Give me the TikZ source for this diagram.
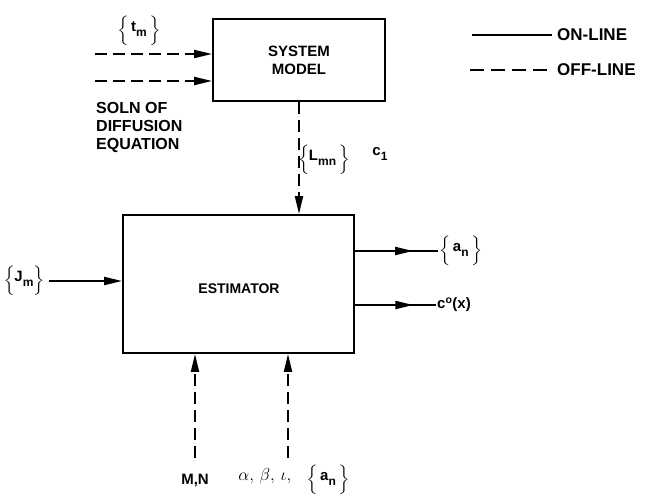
\documentclass[tikz,border=0pt]{standalone}
\usepackage{amsmath,amssymb}
\usepackage{graphicx}
\usepackage{fontspec}
\setmainfont{Liberation Sans}
\usetikzlibrary{arrows.meta,calc,positioning}
\newcommand{\lowsub}[1]{\raisebox{-0.3em}{\fontsize{12}{12}\selectfont #1}}
\newcommand{\tallbrace}[1]{\raisebox{-2pt}{\scalebox{1}[0.82]{$\bigg#1$}}}
\newcommand{\setof}[1]{\tallbrace\{\,#1\,\tallbrace\}}

\begin{document}
\begin{tikzpicture}[x=1pt, y=-1pt, >={Triangle[length=18pt,width=8pt]},
  block/.style={draw, line width=1.8pt, align=center, font=\fontsize{15}{18}\selectfont\bfseries},
  lbl/.style={inner sep=1pt, font=\fontsize{15}{18}\selectfont\bfseries, align=left},
  online/.style={line width=2pt},
  offline/.style={line width=2pt, dash pattern=on 12pt off 6pt}]
  \useasboundingbox (0,0) rectangle (647,496);
  % blocks
  \node[block, minimum width=172pt, minimum height=82pt] (sys) at (299,60) {SYSTEM\\MODEL};
  \node[block, minimum width=231pt, minimum height=138pt] (est) at (238.5,284) {};
  \node[lbl, font=\fontsize{14}{17}\selectfont\bfseries] (esttxt) at (239,289) {ESTIMATOR};
  % inputs of the system model
  \coordinate (tin) at (95,54);
  \coordinate (sin) at (95,81);
  \node[lbl] (tm) at (139,31) {\setof{t\lowsub{m}}};
  \node[lbl, anchor=north west, font=\fontsize{16}{18}\selectfont\bfseries] (soln) at (95,101) {SOLN OF\\DIFFUSION\\EQUATION};
  \draw[offline, ->] (tin) -- (tin -| sys.west);
  \draw[offline, ->] (sin) -- (sin -| sys.west);
  % model to estimator
  \draw[offline, ->] (sys.south) -- (sys.south |- est.north);
  \node[lbl] (lmn) at (324,160) {\setof{\kern-3pt L\lowsub{mn}}};
  \node[lbl] (cone) at (380,154) {c\lowsub{1}};
  % legend
  \node[lbl, anchor=west, font=\fontsize{17}{20}\selectfont\bfseries] (on) at (556,35) {ON-LINE};
  \node[lbl, anchor=west, font=\fontsize{17}{20}\selectfont\bfseries] (off) at (556,70) {OFF-LINE};
  \draw[online] (on.west) ++(-84pt,0) -- ($(on.west)+(-4pt,0)$);
  \draw[offline, dash pattern=on 14pt off 7pt] (off.west) ++(-86pt,0) -- ($(off.west)+(-4pt,0)$);
  % estimator input
  \node[lbl] (jm) at (24,281) {\setof{\kern-3pt J\lowsub{m}\kern-3pt}};
  \draw[online, ->] (jm.east) ++(4pt,0) -- (jm.east -| est.west);
  % estimator outputs
  \node[lbl, anchor=west] (an) at (438,251) {\setof{a\lowsub{n}}};
  \node[lbl, anchor=west] (cx) at (436,305) {c$^{\text{o}}$(x)};
  \draw[online] (an.west -| est.east) -- (an.west);
  \draw[online, ->] (an.west -| est.east) -- ($(an.west -| est.east)!0.70!(an.west)$);
  \draw[online] (cx.west -| est.east) -- (cx.west);
  \draw[online, ->] (cx.west -| est.east) -- ($(cx.west -| est.east)!0.72!(cx.west)$);
  % parameters from below
  \node[lbl] (mn) at (195,480) {M,N};
  \node[lbl] (par) at (294,480) {{\fontsize{17}{18}\selectfont$\alpha,\,\beta,\,\iota,$}\quad\setof{a\lowsub{n}}};
  \coordinate (mnin) at (195,458);
  \coordinate (parin) at (288,458);
  \draw[offline, ->] (mnin) -- (mnin |- est.south);
  \draw[offline, ->] (parin) -- (parin |- est.south);
\end{tikzpicture}
\end{document}
